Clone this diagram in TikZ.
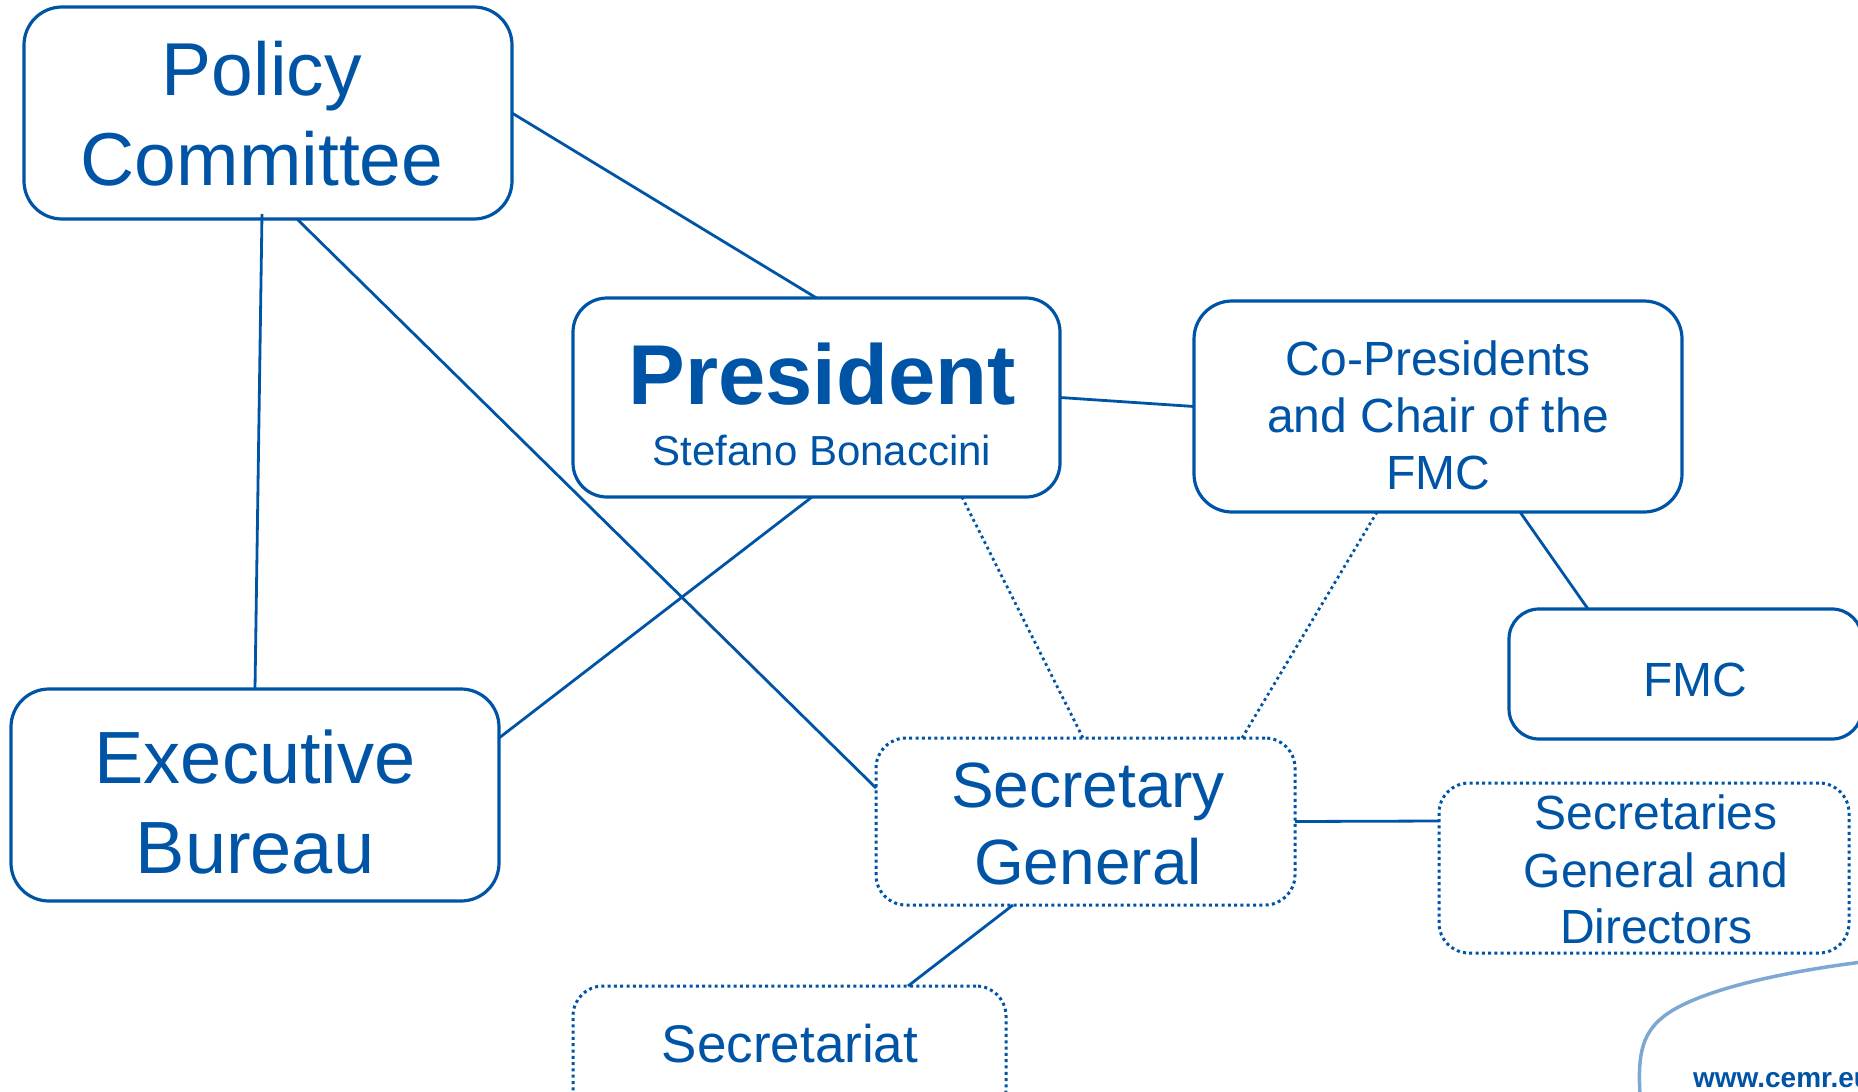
\documentclass[tikz,border=0pt]{standalone}
\usepackage{fontspec}
\setmainfont{Liberation Sans}
\usetikzlibrary{calc}
\definecolor{cemr}{RGB}{0,84,166}
\definecolor{cemrlight}{RGB}{125,168,212}
\begin{document}
\begin{tikzpicture}[x=1pt,y=-1pt,
  box/.style={rectangle, draw=cemr, line width=3.2pt, rounded corners=38pt, inner sep=0pt, outer sep=0pt},
  dbox/.style={box, line width=3pt, dash pattern=on 3pt off 3.3pt, rounded corners=30pt},
  lbl/.style={text=cemr, anchor=base, inner sep=0pt, outer sep=0pt},
  link/.style={draw=cemr, line width=2.8pt},
  dlink/.style={draw=cemr, line width=2.8pt, dash pattern=on 2.8pt off 3.4pt},
]
\path[use as bounding box, clip] (0,0) rectangle (1858,1092);

% boxes
\node[box, minimum width=488pt, minimum height=212pt] (pc) at (268,113) {};
\node[box, minimum width=487pt, minimum height=199pt, rounded corners=34pt] (pres) at (816.5,397.5) {};
\node[box, minimum width=488pt, minimum height=211pt] (cop) at (1438,406.5) {};
\node[box, minimum width=353pt, minimum height=130pt, rounded corners=30pt] (fmc) at (1685.5,674) {};
\node[box, minimum width=488pt, minimum height=212pt] (eb) at (255,795) {};
\node[dbox, minimum width=419pt, minimum height=167pt] (sg) at (1085.5,821.5) {};
\node[dbox, minimum width=410pt, minimum height=170pt] (sgd) at (1644,868) {};
\node[dbox, minimum width=433pt, minimum height=134pt] (sec) at (789.5,1053) {};

% texts
\node[lbl, font=\fontsize{75}{90}\selectfont] (pc1) at (262,95) {Policy};
\node[lbl, font=\fontsize{75}{90}\selectfont] (pc2) at (262,185) {Committee};
\node[lbl, font=\bfseries\fontsize{85}{90}\selectfont] (pres1) at (822,404) {President};
\node[lbl, font=\fontsize{42}{50}\selectfont] (pres2) at (822,465) {Stefano Bonaccini};
\node[lbl, font=\fontsize{48}{57}\selectfont] (cop1) at (1438,375) {Co-Presidents};
\node[lbl, font=\fontsize{48}{57}\selectfont] (cop2) at (1438,432) {and Chair of the};
\node[lbl, font=\fontsize{48}{57}\selectfont] (cop3) at (1438,489) {FMC};
\node[lbl, font=\fontsize{48}{57}\selectfont] (fmc1) at (1695,696) {FMC};
\node[lbl, font=\fontsize{74}{90}\selectfont] (eb1) at (255,783) {Executive};
\node[lbl, font=\fontsize{74}{90}\selectfont] (eb2) at (255,873) {Bureau};
\node[lbl, font=\fontsize{64}{77}\selectfont] (sg1) at (1088,807) {Secretary};
\node[lbl, font=\fontsize{64}{77}\selectfont] (sg2) at (1088,884) {General};
\node[lbl, font=\fontsize{48}{57}\selectfont] (sgd1) at (1656,829) {Secretaries};
\node[lbl, font=\fontsize{48}{57}\selectfont] (sgd2) at (1656,887) {General and};
\node[lbl, font=\fontsize{48}{57}\selectfont] (sgd3) at (1656,943) {Directors};
\node[lbl, font=\fontsize{53}{60}\selectfont] (sec1) at (790,1062) {Secretariat};

% connectors
\draw[link] (pc.east) -- (pres.north);
\draw[link] ([xshift=238pt,yshift=5pt]pc.south west) -- (eb.north);
\draw[link] ([xshift=273pt]pc.south west) -- ([yshift=-50pt]sg.north west);
\draw[link] (pres.east) -- (cop.west);
\draw[link] ([xshift=239pt]pres.south west) -- ([yshift=-49pt]eb.north east);
\draw[dlink] ([xshift=389pt]pres.south west) -- ([xshift=207pt]sg.north west);
\draw[dlink] ([xshift=183pt]cop.south west) -- ([xshift=366pt]sg.north west);
\draw[link] ([xshift=326pt]cop.south west) -- ([xshift=79pt]fmc.north west);
\draw[link] (sg.east) -- ([yshift=-38pt]sgd.north west);
\draw[link] ([xshift=137pt]sg.south west) -- ([xshift=335pt]sec.north west);

% decorative curve and url
\draw[cemrlight, line width=3.5pt] (1862,962) .. controls (1760,975) and (1690,995) .. (1663,1017) .. controls (1640,1035) and (1638,1060) .. (1640,1095);
\node[lbl, anchor=base west, font=\bfseries\fontsize{28}{30}\selectfont] (url) at (1693,1087) {www.cemr.eu};
\end{tikzpicture}
\end{document}
